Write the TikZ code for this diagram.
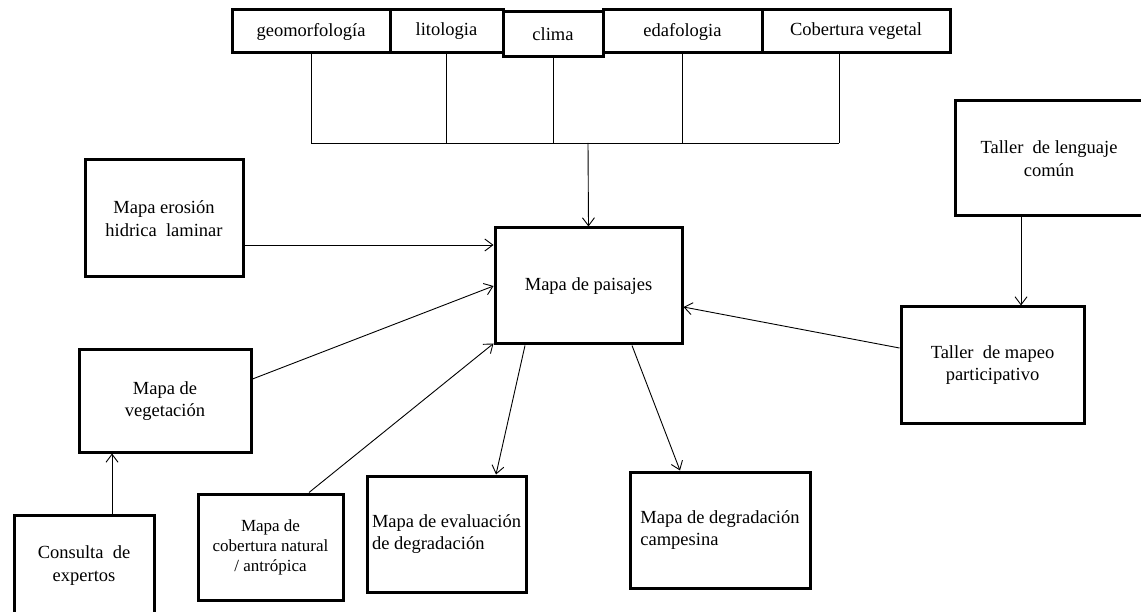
\documentclass[tikz,border=0pt]{standalone}
\usepackage{fontspec}
\setmainfont{Liberation Serif}
\usetikzlibrary{arrows.meta}
\tikzset{
  box/.style={draw=black, line width=3pt, inner sep=0pt, align=center,
    font=\fontsize{18.5}{22.5}\selectfont, text=black},
  leftbox/.style={box, align=left},
  conn/.style={draw=black, line width=0.9pt},
  arr/.style={conn, -{Straight Barb[length=8pt,width=12pt]}}
}
\begin{document}
\begin{tikzpicture}[x=1pt,y=-1pt]
\path[use as bounding box] (0,0) rectangle (1141,612);
\clip (0,0) rectangle (1141,612);
% top boxes
\node[box, minimum width=158, minimum height=43] (geo) at (311,31.5) {geomorfología};
\node[box, minimum width=113, minimum height=43] (lito) at (446.5,31.5) {litologia};
\node[box, minimum width=159, minimum height=43] (edaf) at (682.5,31.5) {edafologia};
\node[box, minimum width=188, minimum height=43] (cob) at (856,31.5) {Cobertura vegetal};
\node[box, fill=white, minimum width=100, minimum height=45] (clima) at (553,34.5) {clima};
% central
\node[box, minimum width=187, minimum height=116] (pais) at (588.5,286) {Mapa de paisajes};
% left
\node[box, minimum width=158, minimum height=117] (eros) at (164,218.5) {Mapa erosión\\hidrica~ laminar};
\node[box, minimum width=172, minimum height=102] (veg) at (165,401) {Mapa de\\vegetación};
\node[box, minimum width=140, minimum height=101] (cons) at (84,565.5) {Consulta~ de\\expertos};
\node[box, minimum width=145, minimum height=106, font=\fontsize{17}{20}\selectfont] (cobnat) at (270.5,547) {Mapa de\\cobertura natural\\/ antrópica};
\node[leftbox, minimum width=159, minimum height=116] (eval) at (446.5,534) {Mapa de evaluación\\de degradación};
\node[leftbox, minimum width=180, minimum height=116] (camp) at (720,530) {Mapa de degradación\\campesina};
% right
\node[box, minimum width=188, minimum height=115] (leng) at (1049,158.5) {Taller~ de lenguaje\\común};
\node[box, minimum width=183, minimum height=116] (mapeo) at (992.5,365) {Taller~ de mapeo\\participativo};
% bus from top boxes
\coordinate (bus) at (588,143);
\coordinate (cobdrop) at (839,143);
\draw[conn] (geo.south) -- (geo.south |- bus);
\draw[conn] (lito.south) -- (lito.south |- bus);
\draw[conn] (clima.south) -- (clima.south |- bus);
\draw[conn] (edaf.south) -- (edaf.south |- bus);
\draw[conn] (cobdrop |- cob.south) -- (cobdrop);
\draw[conn] (geo.south |- bus) -- (cobdrop);
\draw[arr] (bus) -- (pais.north);
% inputs to paisajes
\coordinate (erosout) at ([yshift=-26.5]eros.east);
\draw[arr] (erosout) -- (pais.west |- erosout);
\draw[arr] ([yshift=22]veg.east) -- (pais.west);
\draw[arr] ([xshift=38.5]cobnat.north) -- ([yshift=2]pais.south west);
\draw[arr] ([yshift=17]mapeo.west) -- ([yshift=-21]pais.east);
% outputs
\draw[arr] ([xshift=-63.5]pais.south) -- ([xshift=49.5]eval.north);
\draw[arr] ([xshift=43.5]pais.south) -- ([xshift=-40]camp.north);
% other
\draw[arr] ([xshift=-28]leng.south) -- ([xshift=28.5]mapeo.north);
\draw[arr] ([xshift=28]cons.north) -- ([xshift=-53]veg.south);
\end{tikzpicture}
\end{document}
